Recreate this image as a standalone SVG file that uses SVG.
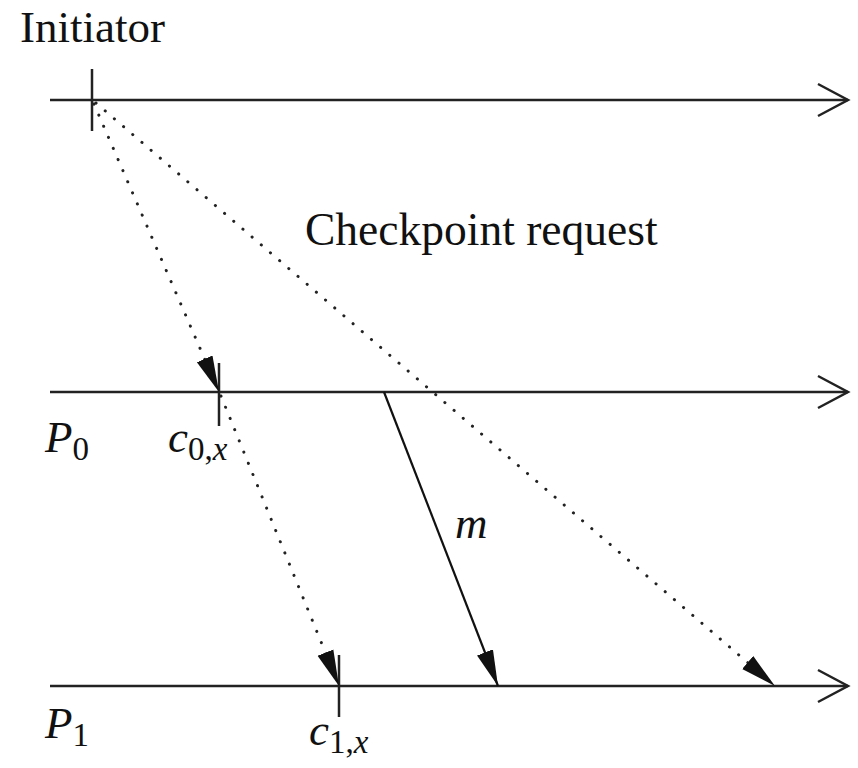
<svg xmlns="http://www.w3.org/2000/svg" width="858" height="768" viewBox="0 0 858 768">
<defs>
<style>
.ax{stroke:#222;stroke-width:2.5;fill:none}
.tk{stroke:#222;stroke-width:2.5}
.dot{stroke:#222;stroke-width:3;stroke-dasharray:0.1 12;stroke-linecap:round;fill:none}
.sol{stroke:#111;stroke-width:2.2;fill:none}
.t{font-family:"Liberation Serif",serif;fill:#111}
.i{font-style:italic}
</style>
<marker id="open" markerUnits="userSpaceOnUse" markerWidth="40" markerHeight="40" refX="32" refY="18" orient="auto" viewBox="0 0 40 40">
<path d="M2,2 L32,18 L2,34" fill="none" stroke="#222" stroke-width="2.5"/>
</marker>
<marker id="fill" markerUnits="userSpaceOnUse" markerWidth="40" markerHeight="20" refX="36" refY="10" orient="auto" viewBox="0 0 40 20">
<path d="M0,1.5 L36,10 L0,18.5 Z" fill="#111"/>
</marker>
</defs>
<g id="initiator">
<line class="ax" x1="50" y1="100" x2="848" y2="100" marker-end="url(#open)"/>
<line class="tk" x1="92" y1="69" x2="92" y2="131"/>
<text class="t" x="20" y="42" font-size="45">Initiator</text>
</g>
<g id="p0">
<line class="ax" x1="50" y1="392" x2="848" y2="392" marker-end="url(#open)"/>
<line class="tk" x1="219" y1="363" x2="219" y2="426"/>
<text class="t i" x="45" y="452" font-size="45">P<tspan font-style="normal" font-size="33" dy="8">0</tspan></text>
<text class="t i" x="168" y="452" font-size="45">c<tspan font-style="normal" font-size="33" dy="8">0,</tspan><tspan font-size="33">x</tspan></text>
</g>
<g id="p1">
<line class="ax" x1="50" y1="686" x2="848" y2="686" marker-end="url(#open)"/>
<line class="tk" x1="339" y1="655" x2="339" y2="717"/>
<text class="t i" x="45" y="738" font-size="45">P<tspan font-style="normal" font-size="33" dy="8">1</tspan></text>
<text class="t i" x="309" y="745" font-size="45">c<tspan font-style="normal" font-size="33" dy="8">1,</tspan><tspan font-size="33">x</tspan></text>
</g>
<g id="labels">
<text class="t" x="305" y="245" font-size="45.5">Checkpoint request</text>
<text class="t i" x="455" y="538" font-size="45">m</text>
</g>
<g id="connectors">
<line class="dot" x1="94" y1="104" x2="219" y2="392" marker-end="url(#fill)"/>
<line class="dot" x1="221" y1="396" x2="339" y2="686" marker-end="url(#fill)"/>
<line class="dot" x1="96" y1="103" x2="775" y2="686" marker-end="url(#fill)"/>
<line class="sol" x1="384" y1="392" x2="498" y2="686" marker-end="url(#fill)"/>
</g>
</svg>
